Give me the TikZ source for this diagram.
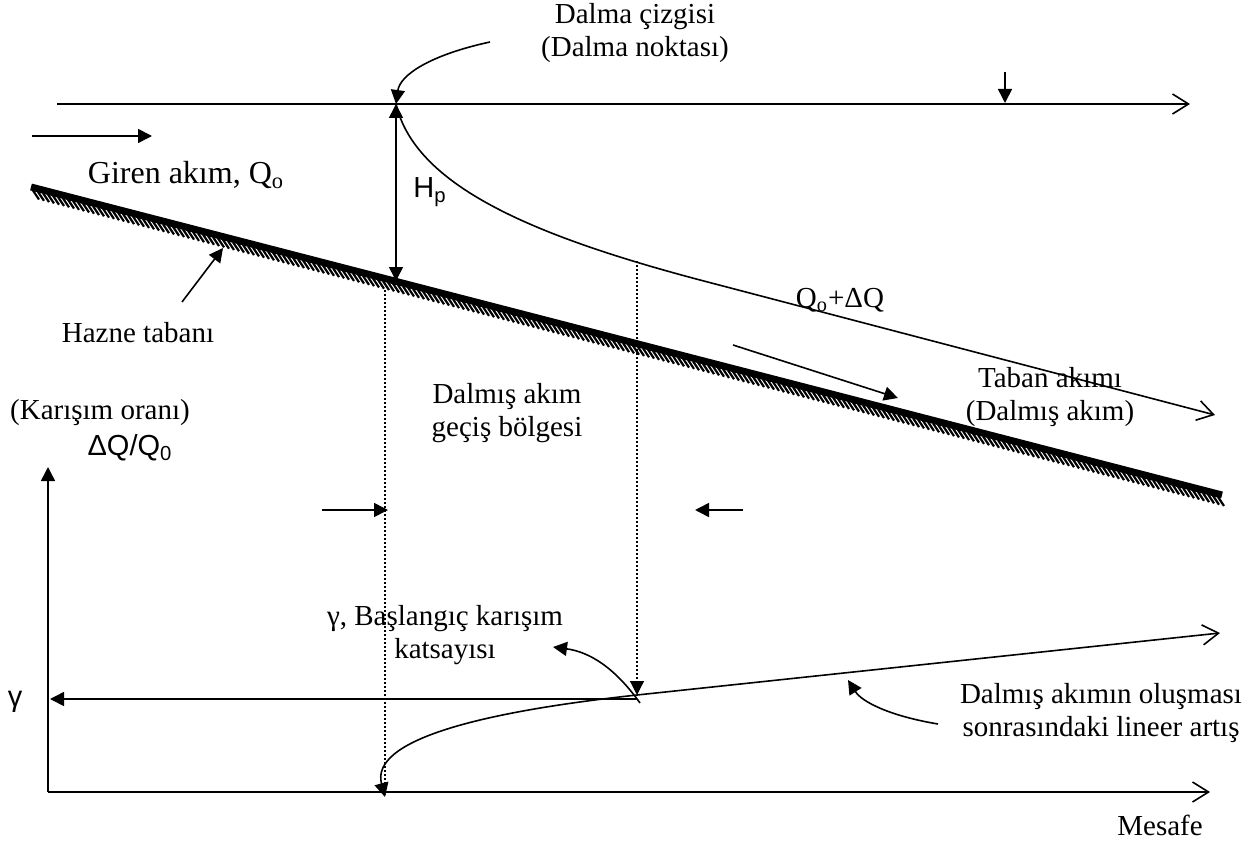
\documentclass[tikz,border=0pt]{standalone}
\usepackage{fontspec}
\setmainfont{Liberation Serif}
\newfontfamily\arialfont{Liberation Sans}
\usetikzlibrary{arrows.meta,calc}

\tikzset{
  lbl/.style={font=\fontsize{14.5}{16.5}\selectfont,align=center,inner sep=0pt},
  slbl/.style={font=\arialfont\fontsize{14.5}{16.5}\selectfont,inner sep=0pt},
  fl/.style={-{Triangle[length=7pt,width=7pt]}},
  op/.style={-{Straight Barb[length=8pt,width=10pt]}},
  guide/.style={line width=0.6pt,dash pattern=on 1pt off 1pt},
}

\begin{document}
\begin{tikzpicture}[x=0.5pt,y=-0.5pt,line width=0.8pt]
  \useasboundingbox (0,0) rectangle (1257,845);

  % su yuzeyi ve dalma noktasi
  \coordinate (ws0) at (57,104); \coordinate (ws1) at (1190,104);
  \coordinate (dp) at (396,104);
  \draw[op] (ws0) -- (ws1);
  \coordinate (ws2) at (1005,72); \coordinate (ws3) at (1005,103);
  \draw[fl] (ws2) -- (ws3);
  \node[lbl] (dalma) at (635,33) {Dalma çizgisi\\(Dalma noktası)};
  \coordinate (dalmaA) at (490,42);
  \draw[fl] (dalmaA) .. controls (430,55) and (400,75) .. (dp);

  % giren akim
  \coordinate (in0) at (32,136); \coordinate (in1) at (152,136);
  \draw[fl] (in0) -- (in1);
  \node[lbl,font=\fontsize{16}{18}\selectfont] (giren) at (186,175) {Giren akım, Q\textsubscript{o}};

  % hazne tabani
  \coordinate (bed0) at (31,187); \coordinate (bed1) at (1222,495);
  \foreach \i [evaluate=\i as \yy using 187+(\i-31)*0.2586] in {33,38,...,1218}
    \draw[line width=1.1pt] (\i,\yy+3) -- (\i+6,\yy+12);
  \draw[line width=3.5pt] (bed0) -- (bed1);
  \node[lbl] (hazne) at (138,333) {Hazne tabanı};
  \coordinate (hz0) at (182,302); \coordinate (hz1) at (223,248);
  \draw[fl] (hz0) -- (hz1);

  % H_p
  \coordinate (hpb) at (396,281);
  \draw[{Triangle[length=7pt,width=7pt]}-{Triangle[length=7pt,width=7pt]}] (dp) -- (hpb);
  \node[slbl] (hp) at (430,192) {H\textsubscript{p}};

  % ara yuzey
  \coordinate (cv1) at (700,280); \coordinate (cv2) at (1215,415);
  \draw[op] (dp) .. controls (415,185) and (530,235) .. (cv1) -- (cv2);
  \node[lbl] (qdq) at (840,300) {Q\textsubscript{o}+ΔQ};
  \coordinate (fa0) at (733,345); \coordinate (fa1) at (898,398);
  \draw[fl] (fa0) -- (fa1);
  \node[lbl] (taban) at (1050,397) {Taban akımı\\(Dalmış akım)};

  % gecis bolgesi
  \coordinate (g1t) at (385,290); \coordinate (g1b) at (385,795);
  \coordinate (g2t) at (637,261); \coordinate (g2b) at (637,695);
  \draw[guide] (g1t) -- (g1b);
  \draw[guide,-{Triangle[length=7pt,width=7pt]}] (g2t) -- (g2b);
  \node[lbl] (gecis) at (507,413) {Dalmış akım\\geçiş bölgesi};
  \coordinate (la0) at (322,510); \coordinate (la1) at (388,510);
  \coordinate (ra0) at (743,510); \coordinate (ra1) at (695,510);
  \draw[fl] (la0) -- (la1);
  \draw[fl] (ra0) -- (ra1);

  % karisim orani grafigi
  \coordinate (org) at (48,792);
  \coordinate (yax) at (48,467); \coordinate (xax) at (1210,792);
  \draw[fl] (org) -- (yax);
  \draw[op] (org) -- (xax);
  \node[lbl] (karisim) at (100,413) {(Karışım oranı)};
  \node[slbl] (oran) at (130,448) {ΔQ/Q\textsubscript{0}};
  \node[lbl] (mesafe) at (1160,825) {Mesafe};

  \coordinate (gy0) at (637,699); \coordinate (gy1) at (50,699);
  \draw[fl] (gy0) -- (gy1);
  \node[slbl] (gam) at (15,702) {γ};

  \coordinate (rise) at (1220,633); \coordinate (foot) at (385,797);
  \draw[op] (g2b) -- (rise);
  \draw[fl] (g2b) .. controls (480,712) and (370,740) .. (foot);

  % aciklamalar
  \node[lbl] (baslangic) at (445,635) {γ, Başlangıç karışım\\katsayısı};
  \coordinate (bp0) at (640,703); \coordinate (bp1) at (553,647);
  \draw[fl] (bp0) .. controls (615,668) and (590,652) .. (bp1);
  \node[lbl] (lineer) at (1101,713) {Dalmış akımın oluşması\\sonrasındaki lineer artış};
  \coordinate (lp0) at (938,724); \coordinate (lp1) at (848,680);
  \draw[fl] (lp0) .. controls (890,716) and (862,702) .. (lp1);
\end{tikzpicture}
\end{document}
